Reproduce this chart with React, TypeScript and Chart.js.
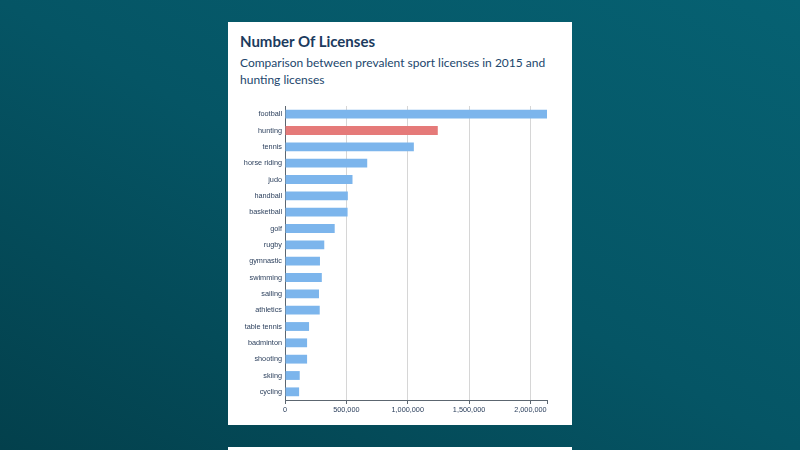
import React, { useEffect, useRef } from "react";
import { Chart, registerables } from "chart.js";

Chart.register(...registerables);

const categories = [
  "football", "hunting", "tennis", "horse riding", "judo", "handball",
  "basketball", "golf", "rugby", "gymnastic", "swimming", "sailing",
  "athletics", "table tennis", "badminton", "shooting", "skiing", "cycling",
];
const licenses = [
  2135000, 1245000, 1050000, 670000, 550000, 512000,
  510000, 405000, 320000, 285000, 300000, 277000,
  283000, 196000, 180000, 180000, 120000, 115000,
];
const highlighted = "hunting";
const xTickValues = [0, 500000, 1000000, 1500000, 2000000];

const titleText = "Number Of Licenses";
const subtitleLines = [
  "Comparison between prevalent sport licenses in 2015 and",
  "hunting licenses",
];

const BLUE = "#7cb5ec";
const RED = "#e57a79";
const TEXT = "#2b3f5c";
const AXIS = "#5c6670";

const endTickPlugin = {
  id: "endTick",
  afterDraw(chart: any) {
    const x = chart.scales.x;
    const ctx = chart.ctx;
    const px = Math.round(x.getPixelForValue(x.max)) + 0.5;
    ctx.save();
    ctx.strokeStyle = AXIS;
    ctx.lineWidth = 1;
    ctx.beginPath();
    ctx.moveTo(px, x.top);
    ctx.lineTo(px, x.top + 4);
    ctx.stroke();
    ctx.restore();
  },
};

function LicensesChart() {
  const ref = useRef<HTMLCanvasElement | null>(null);
  useEffect(() => {
    if (!ref.current) return;
    const maxVal = Math.max(...licenses);
    const chart = new Chart(ref.current, {
      type: "bar",
      data: {
        labels: categories,
        datasets: [
          {
            data: licenses,
            backgroundColor: categories.map((c) => (c === highlighted ? RED : BLUE)),
            borderWidth: 0,
            barPercentage: 0.54,
            categoryPercentage: 1,
          },
        ],
      },
      plugins: [endTickPlugin],
      options: {
        indexAxis: "y",
        animation: false,
        responsive: false,
        layout: { padding: { top: 11, right: 25, bottom: 0, left: 0 } },
        plugins: {
          legend: { display: false },
          tooltip: { enabled: false },
          title: { display: false },
        },
        scales: {
          x: {
            type: "linear",
            min: 0,
            max: maxVal,
            afterBuildTicks: (s: any) => {
              s.ticks = xTickValues.map((v) => ({ value: v }));
            },
            afterFit: (s: any) => {
              s.height = 25;
            },
            border: { display: true, color: AXIS, width: 1 },
            grid: {
              color: "#d6d6d6",
              tickColor: AXIS,
              tickLength: 4,
              drawTicks: true,
            },
            ticks: {
              padding: 2,
              color: TEXT,
              font: { family: "'Liberation Sans', Arial, sans-serif", size: 7.3 },
              maxRotation: 0,
              autoSkip: false,
              callback: (v: any) => Number(v).toLocaleString("en-US"),
            },
          },
          y: {
            afterFit: (s: any) => {
              s.width = 57;
            },
            border: { display: true, color: AXIS, width: 1 },
            grid: { display: false, drawTicks: false },
            ticks: {
              padding: 3,
              color: TEXT,
              autoSkip: false,
              font: { family: "'Liberation Sans', Arial, sans-serif", size: 7.3 },
            },
          },
        },
      },
    } as any);
    return () => chart.destroy();
  }, []);
  return (
    <canvas
      ref={ref}
      width={344}
      height={330}
      style={{ position: "absolute", left: 0, top: 73, width: 344, height: 330 }}
    />
  );
}

export default function App() {
  return (
    <div
      style={{
        position: "fixed",
        left: 0,
        top: 0,
        width: 800,
        height: 450,
        overflow: "hidden",
        background: "linear-gradient(to top right, #03404c 0%, #055565 50%, #066172 100%)",
      }}
    >
      <div
        style={{
          position: "absolute",
          left: 228,
          top: 22,
          width: 344,
          height: 403,
          background: "#ffffff",
        }}
      >
        <div
          style={{
            position: "absolute",
            left: 12,
            top: 10,
            fontFamily: "Lato, 'Open Sans', sans-serif",
            fontWeight: 700,
            fontSize: 15,
            lineHeight: "18px",
            color: "#1c3b5e",
            whiteSpace: "nowrap",
          }}
        >
          {titleText}
        </div>
        <div
          style={{
            position: "absolute",
            left: 12,
            top: 32,
            fontFamily: "Lato, 'Open Sans', sans-serif",
            fontWeight: 400,
            fontSize: 12,
            lineHeight: "17px",
            color: "#22466c",
            whiteSpace: "nowrap",
          }}
        >
          {subtitleLines.map((l, i) => (
            <div key={i}>{l}</div>
          ))}
        </div>
        <LicensesChart />
      </div>
      <div
        style={{
          position: "absolute",
          left: 228,
          top: 447,
          width: 344,
          height: 20,
          background: "#ffffff",
        }}
      />
    </div>
  );
}
